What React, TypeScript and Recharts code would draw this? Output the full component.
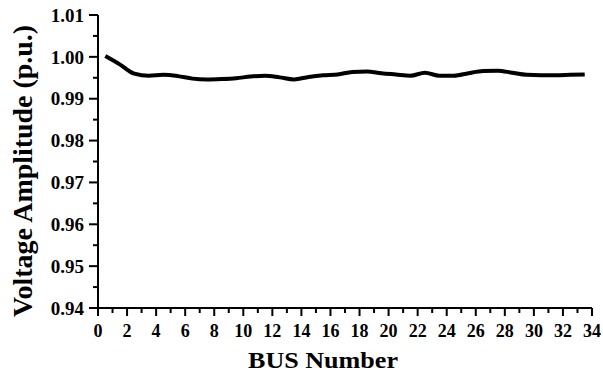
import React from 'react';
import { LineChart, Line, XAxis, YAxis } from 'recharts';

const busNumbers = [
  0.5, 1.5, 2.5, 3.5, 4.5, 5.5, 6.5, 7.5, 8.5, 9.5, 10.5, 11.5, 12.5, 13.5, 14.5, 15.5, 16.5,
  17.5, 18.5, 19.5, 20.5, 21.5, 22.5, 23.5, 24.5, 25.5, 26.5, 27.5, 28.5, 29.5, 30.5, 31.5, 32.5, 33.5,
];
const voltages = [
  1.0002, 0.9982, 0.996, 0.9955, 0.9957, 0.9954, 0.9948, 0.9946, 0.9947, 0.9949, 0.9953, 0.9955,
  0.9951, 0.9946, 0.9952, 0.9956, 0.9958, 0.9964, 0.9965, 0.9961, 0.9958, 0.9955, 0.9962, 0.9955,
  0.9955, 0.9961, 0.9966, 0.9967, 0.9962, 0.9957, 0.9956, 0.9956, 0.9957, 0.9958,
];
const xTicks = [
  0, 1, 2, 3, 4, 5, 6, 7, 8, 9, 10, 11, 12, 13, 14, 15, 16, 17, 18, 19, 20, 21, 22, 23, 24, 25, 26,
  27, 28, 29, 30, 31, 32, 33, 34,
];
const yTicks = [
  0.94, 0.945, 0.95, 0.955, 0.96, 0.965, 0.97, 0.975, 0.98, 0.985, 0.99, 0.995, 1.0, 1.005, 1.01,
];
const xTitle = 'BUS Number';
const yTitle = 'Voltage Amplitude (p.u.)';

const data = busNumbers.map((b, i) => ({ bus: b, v: voltages[i] }));

const textStyle: React.CSSProperties = {
  fontFamily: "'Times New Roman', 'Liberation Serif', serif",
  fontWeight: 700,
};

const XTick = (props: any) => {
  const { x, y, payload } = props;
  const major = Math.round(payload.value) % 2 === 0;
  return (
    <g>
      <line x1={x} x2={x} y1={y} y2={y + (major ? 8 : 5)} stroke="#000" strokeWidth={2} />
      {major && (
        <text x={x} y={y + 29} textAnchor="middle" style={{ ...textStyle, fontSize: 18 }} fill="#000">
          {payload.value}
        </text>
      )}
    </g>
  );
};

const YTick = (props: any) => {
  const { x, y, payload } = props;
  const major = Math.round(payload.value * 1000) % 10 === 0;
  return (
    <g>
      <line x1={x} x2={x - (major ? 9 : 5)} y1={y} y2={y} stroke="#000" strokeWidth={2} />
      {major && (
        <text
          x={x - 14}
          y={y}
          dy="0.35em"
          textAnchor="end"
          style={{ ...textStyle, fontSize: 19 }}
          fill="#000"
        >
          {payload.value.toFixed(2)}
        </text>
      )}
    </g>
  );
};

const XTitle = (props: any) => {
  const vb = props.viewBox;
  return (
    <text
      x={vb.x + 150}
      y={368}
      style={{ ...textStyle, fontSize: 24 }}
      fill="#000"
      textLength={150}
      lengthAdjust="spacingAndGlyphs"
    >
      {xTitle}
    </text>
  );
};

const YTitle = () => {
  return (
    <text
      transform="translate(32, 317) rotate(-90)"
      x={0}
      y={0}
      style={{ ...textStyle, fontSize: 28 }}
      fill="#000"
      textLength={292}
      lengthAdjust="spacingAndGlyphs"
    >
      {yTitle}
    </text>
  );
};

export default function App() {
  return (
    <div style={{ position: 'absolute', left: 0, top: 0, width: 603, height: 372, background: '#fff' }}>
      <LineChart
        width={603}
        height={372}
        data={data}
        margin={{ top: 15, right: 11, left: 38, bottom: 0 }}
      >
        <XAxis
          dataKey="bus"
          type="number"
          domain={[0, 34]}
          ticks={xTicks}
          interval={0}
          height={64}
          tickSize={0}
          tickMargin={0}
          tick={<XTick />}
          axisLine={{ stroke: '#000', strokeWidth: 2 }}
          tickLine={false}
          label={<XTitle />}
        />
        <YAxis
          type="number"
          domain={[0.94, 1.01]}
          ticks={yTicks}
          interval={0}
          width={60}
          tickSize={0}
          tickMargin={0}
          tick={<YTick />}
          axisLine={{ stroke: '#000', strokeWidth: 2 }}
          tickLine={false}
          allowDataOverflow
          label={<YTitle />}
        />
        <Line
          type="monotone"
          dataKey="v"
          stroke="#000"
          strokeWidth={4}
          dot={false}
          isAnimationActive={false}
        />
      </LineChart>
    </div>
  );
}
